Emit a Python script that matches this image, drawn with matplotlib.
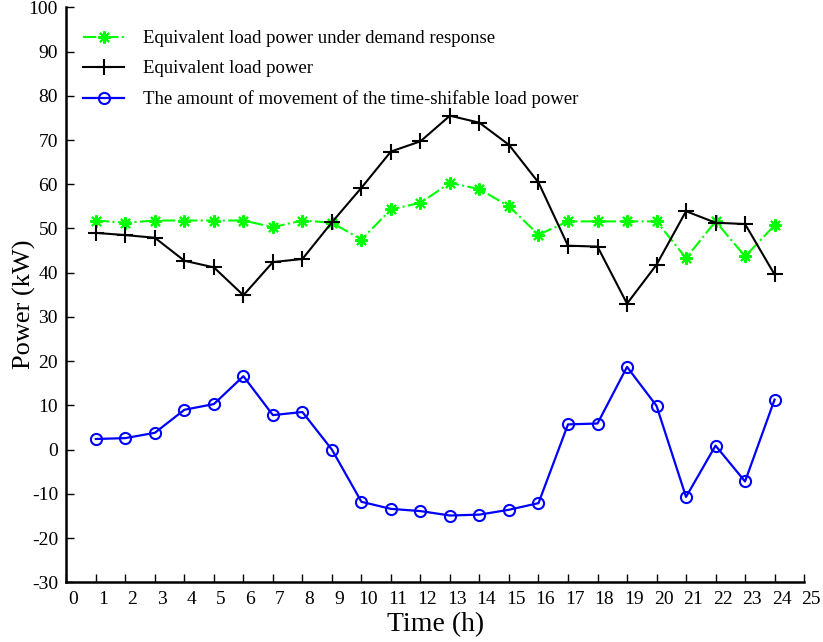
import matplotlib.pyplot as plt
import matplotlib.transforms as mtransforms

# hourly data, 1..24 h
horas = list(range(1, 25))
carga_dr = [51.8, 51.3, 51.8, 51.8, 51.8, 51.8, 50.3, 51.8, 51.3, 47.5, 54.3, 55.8,
            60.3, 58.9, 55.0, 48.6, 51.6, 51.6, 51.6, 51.6, 43.3, 51.6, 43.7, 50.7]
carga_eq = [49.0, 48.5, 47.9, 42.7, 41.2, 34.9, 42.4, 43.1, 51.4, 59.2, 67.4, 69.7,
            75.5, 73.9, 68.9, 60.4, 46.1, 45.9, 33.0, 41.8, 53.9, 51.3, 51.0, 39.6]
mov_carga = [2.4, 2.6, 3.8, 9.0, 10.3, 16.6, 7.8, 8.5, 0.0, -11.8, -13.4, -13.9,
             -14.9, -14.7, -13.6, -12.1, 5.7, 5.9, 18.7, 9.9, -10.7, 0.9, -7.2, 11.3]

etiquetas = ['Equivalent load power under demand response',
             'Equivalent load power',
             'The amount of movement of the time-shifable load power']

plt.rcParams['font.family'] = ['Liberation Serif', 'DejaVu Serif']
plt.rcParams['axes.unicode_minus'] = False

fig = plt.figure(figsize=(8.23, 6.42), dpi=100)
ax = fig.add_axes([0.0806, 0.093, 0.8964, 0.8956])

ax.plot(horas, carga_dr, '-.', color=(0, 1, 0), lw=1.5, marker=(8, 2, 0), ms=9,
        mew=1.5, label=etiquetas[0])
ax.plot(horas, carga_eq, '-', color='black', lw=1.5, marker='+', ms=12, mew=1.5,
        label=etiquetas[1])
ax.plot(horas, mov_carga, '-', color='blue', lw=1.6, marker='o', ms=8, mfc='none',
        mew=1.5, label=etiquetas[2])

ax.set_xlim(0, 25)
ax.set_ylim(-30, 100)
ax.set_xticks(range(0, 26))
ax.set_yticks(range(-30, 101, 10))
ax.tick_params(direction='in', length=6, width=1, labelsize=14, pad=6)
ax.tick_params(axis='y', pad=6)

ax.spines['top'].set_visible(False)
ax.spines['right'].set_visible(False)
ax.spines['left'].set_linewidth(1.8)
ax.spines['bottom'].set_linewidth(1.8)

# shift x tick labels slightly to the right
desp = mtransforms.ScaledTranslation(7 / 100, 0, fig.dpi_scale_trans)
for lbl in ax.get_xticklabels():
    lbl.set_transform(lbl.get_transform() + desp)

ax.set_xlabel('Time (h)', fontsize=20, labelpad=3)
ax.set_ylabel('Power (kW)', fontsize=19)
ax.yaxis.set_label_coords(-0.041, 0.484)

ax.legend(loc='upper left', frameon=False, fontsize=13.5, handlelength=2.2,
          handletextpad=1.0, labelspacing=0.7, bbox_to_anchor=(0.0, 0.99),
          borderaxespad=0.5)

fig.savefig('out.png', dpi=100)
